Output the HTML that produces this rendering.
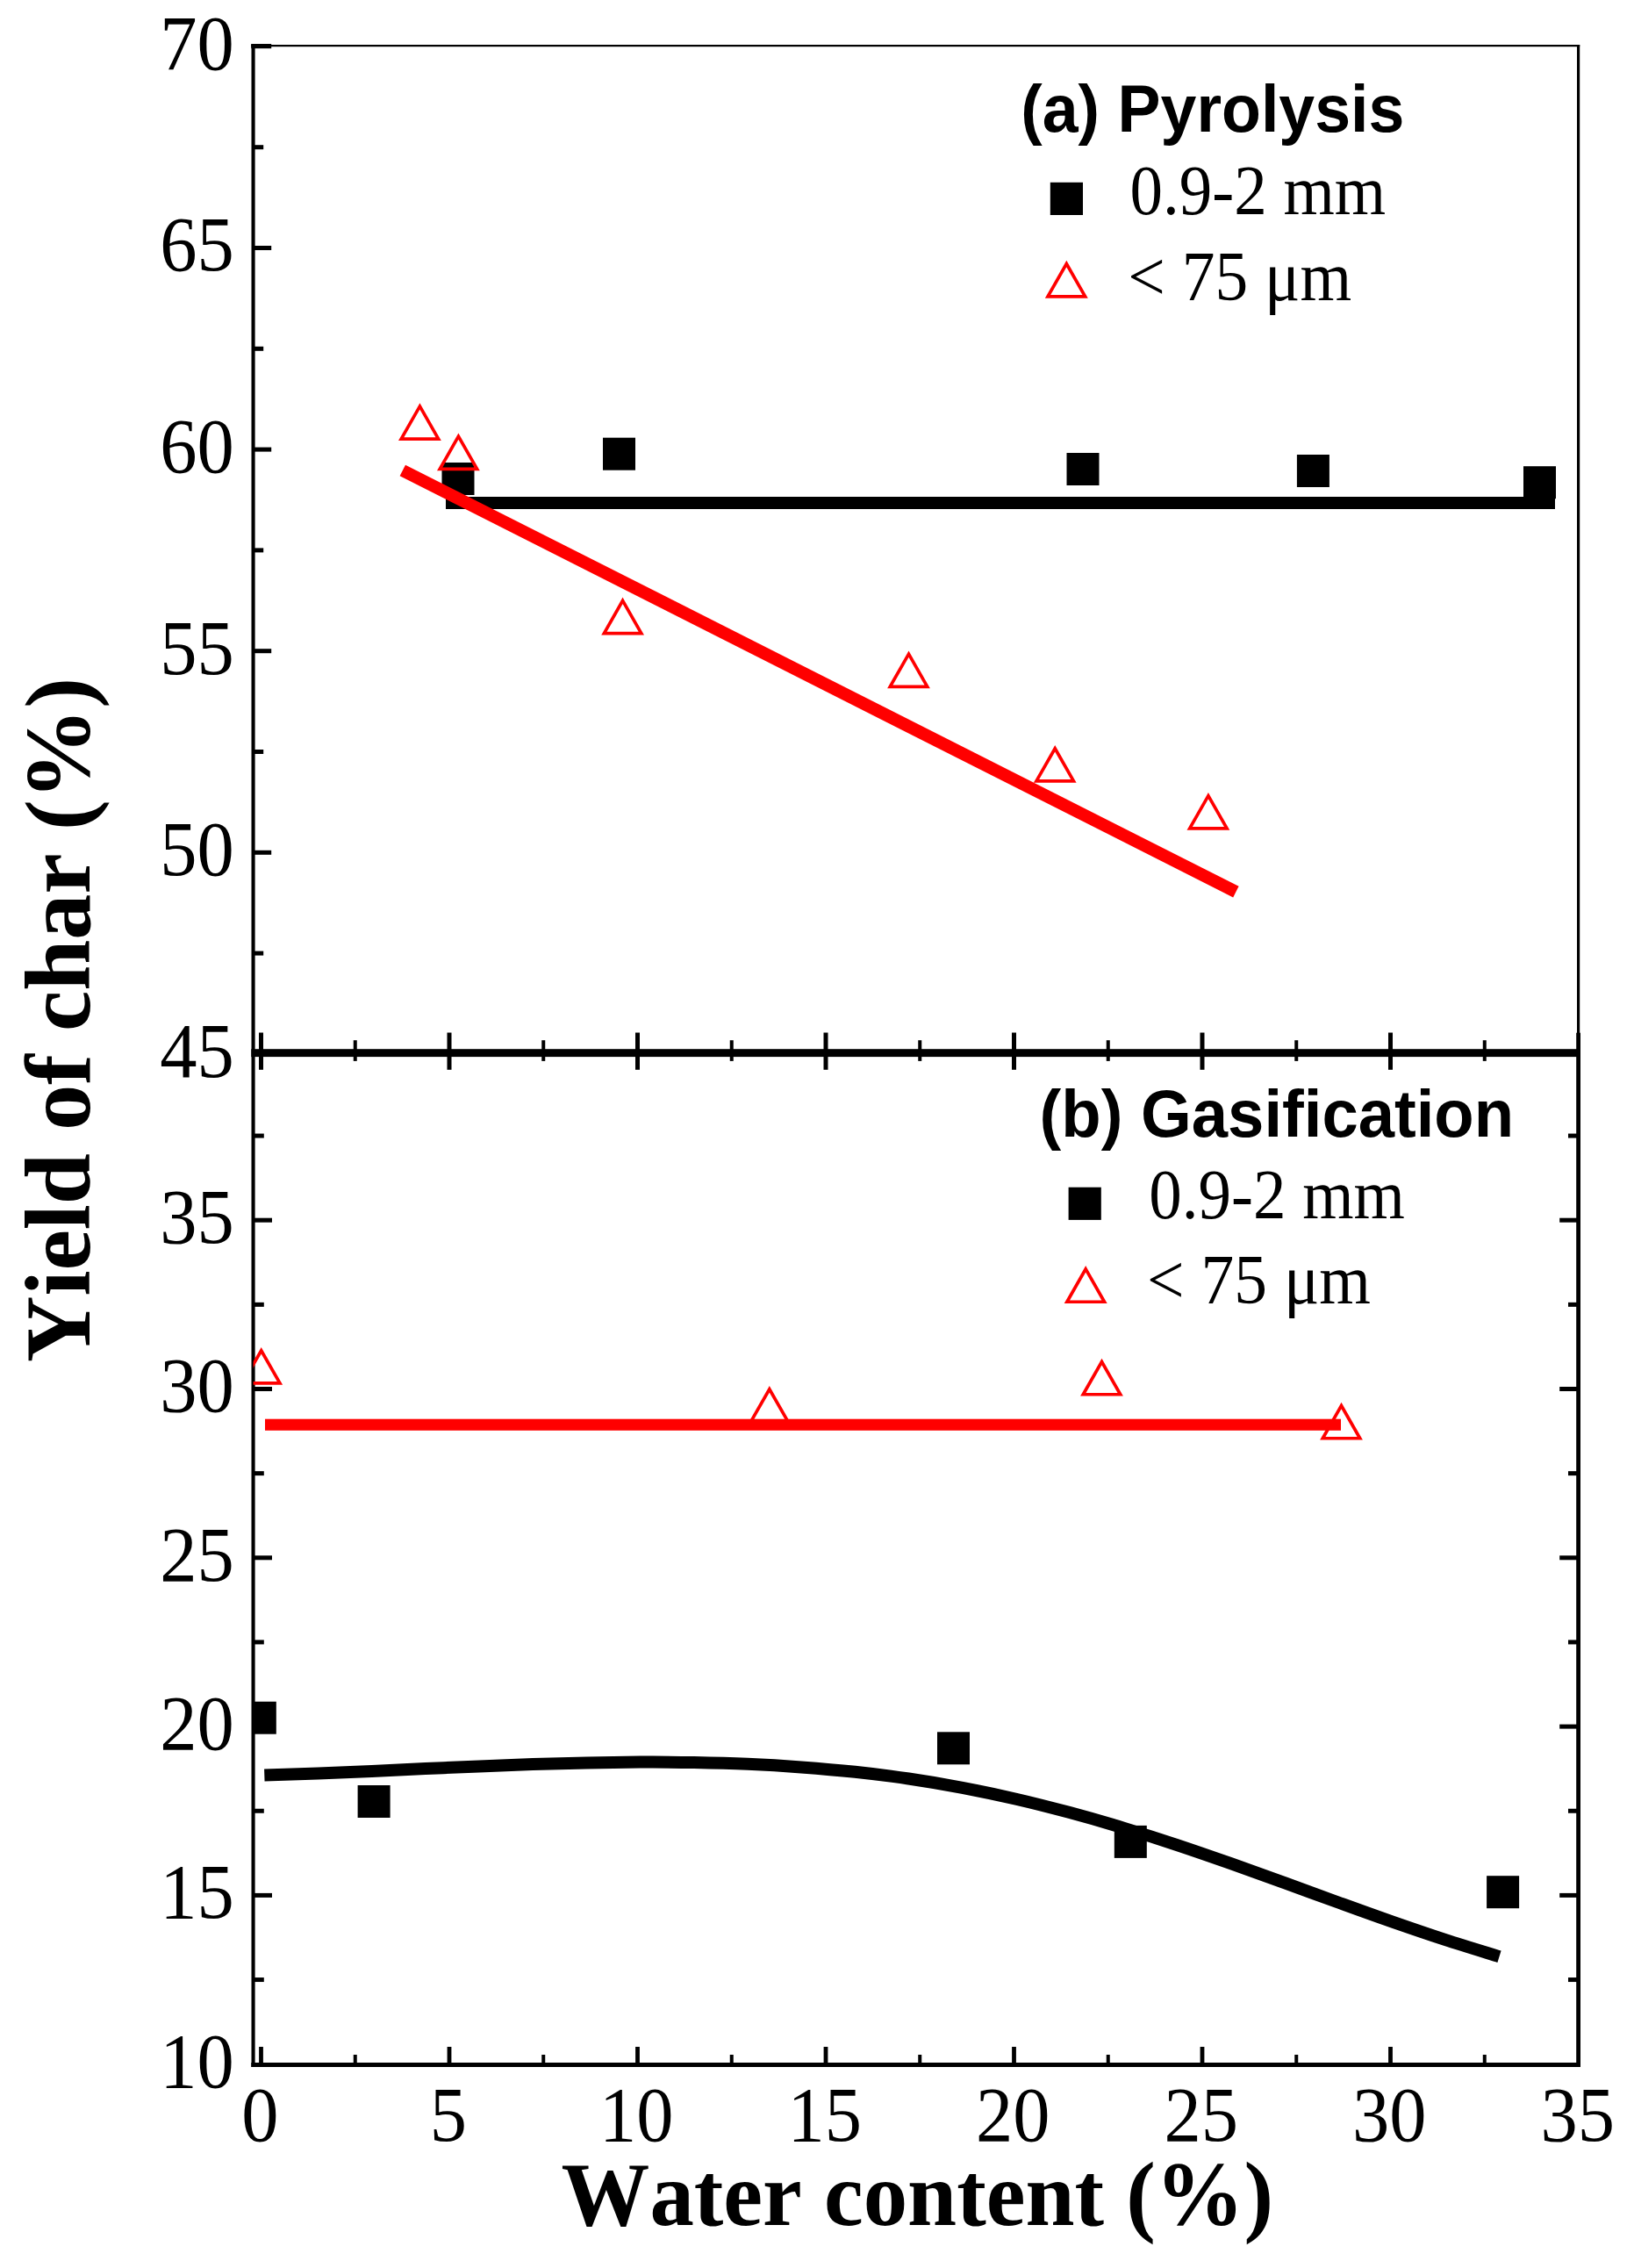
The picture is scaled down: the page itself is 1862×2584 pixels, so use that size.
<!DOCTYPE html>
<html lang="en"><head><meta charset="utf-8"><title>Yield of char vs water content</title>
<style>
html,body{margin:0;padding:0;background:#fff}
body{width:1862px;height:2584px;overflow:hidden}
svg{display:block}
text{font-family:"Liberation Serif",serif;fill:#000;font-kerning:none}
.sans{font-family:"Liberation Sans",sans-serif;font-weight:bold}
.b{font-weight:bold}
</style></head><body>
<svg width="1862" height="2584" viewBox="0 0 1862 2584">
<rect x="0" y="0" width="1862" height="2584" fill="#fff"/>
<rect x="286.50" y="50.00" width="4.10" height="2305.00" fill="#000"/>
<rect x="286.30" y="51.00" width="1513.90" height="2.20" fill="#000"/>
<rect x="286.30" y="50.00" width="22.90" height="5.20" fill="#000"/>
<rect x="1797.00" y="51.00" width="3.20" height="1149.00" fill="#000"/>
<rect x="1796.20" y="1176.70" width="4.80" height="1178.30" fill="#000"/>
<rect x="286.30" y="1195.20" width="1514.70" height="8.90" fill="#000"/>
<rect x="286.30" y="2350.00" width="1514.70" height="5.00" fill="#000"/>
<rect x="290.00" y="165.20" width="10.20" height="5.00" fill="#000"/>
<rect x="290.00" y="280.00" width="19.20" height="5.00" fill="#000"/>
<rect x="290.00" y="394.80" width="10.20" height="5.00" fill="#000"/>
<rect x="290.00" y="509.60" width="19.20" height="5.00" fill="#000"/>
<rect x="290.00" y="624.40" width="10.20" height="5.00" fill="#000"/>
<rect x="290.00" y="739.20" width="19.20" height="5.00" fill="#000"/>
<rect x="290.00" y="854.00" width="10.20" height="5.00" fill="#000"/>
<rect x="290.00" y="968.80" width="19.20" height="5.00" fill="#000"/>
<rect x="290.00" y="1083.60" width="10.20" height="5.00" fill="#000"/>
<rect x="290.00" y="1291.55" width="10.80" height="5.00" fill="#000"/>
<rect x="1787.00" y="1291.55" width="10.00" height="5.00" fill="#000"/>
<rect x="290.00" y="1387.70" width="20.00" height="5.00" fill="#000"/>
<rect x="1777.20" y="1387.70" width="19.80" height="5.00" fill="#000"/>
<rect x="290.00" y="1483.85" width="10.80" height="5.00" fill="#000"/>
<rect x="1787.00" y="1483.85" width="10.00" height="5.00" fill="#000"/>
<rect x="290.00" y="1580.00" width="20.00" height="5.00" fill="#000"/>
<rect x="1777.20" y="1580.00" width="19.80" height="5.00" fill="#000"/>
<rect x="290.00" y="1676.15" width="10.80" height="5.00" fill="#000"/>
<rect x="1787.00" y="1676.15" width="10.00" height="5.00" fill="#000"/>
<rect x="290.00" y="1772.30" width="20.00" height="5.00" fill="#000"/>
<rect x="1777.20" y="1772.30" width="19.80" height="5.00" fill="#000"/>
<rect x="290.00" y="1868.45" width="10.80" height="5.00" fill="#000"/>
<rect x="1787.00" y="1868.45" width="10.00" height="5.00" fill="#000"/>
<rect x="290.00" y="1964.60" width="20.00" height="5.00" fill="#000"/>
<rect x="1777.20" y="1964.60" width="19.80" height="5.00" fill="#000"/>
<rect x="290.00" y="2060.75" width="10.80" height="5.00" fill="#000"/>
<rect x="1787.00" y="2060.75" width="10.00" height="5.00" fill="#000"/>
<rect x="290.00" y="2156.90" width="20.00" height="5.00" fill="#000"/>
<rect x="1777.20" y="2156.90" width="19.80" height="5.00" fill="#000"/>
<rect x="290.00" y="2253.05" width="10.80" height="5.00" fill="#000"/>
<rect x="1787.00" y="2253.05" width="10.00" height="5.00" fill="#000"/>
<rect x="295.00" y="1176.50" width="5.00" height="42.30" fill="#000"/>
<rect x="295.10" y="2332.00" width="4.80" height="20.00" fill="#000"/>
<rect x="402.75" y="1185.20" width="4.00" height="23.70" fill="#000"/>
<rect x="402.75" y="2341.00" width="4.00" height="11.00" fill="#000"/>
<rect x="509.50" y="1176.50" width="5.00" height="42.30" fill="#000"/>
<rect x="509.60" y="2332.00" width="4.80" height="20.00" fill="#000"/>
<rect x="617.25" y="1185.20" width="4.00" height="23.70" fill="#000"/>
<rect x="617.25" y="2341.00" width="4.00" height="11.00" fill="#000"/>
<rect x="724.00" y="1176.50" width="5.00" height="42.30" fill="#000"/>
<rect x="724.10" y="2332.00" width="4.80" height="20.00" fill="#000"/>
<rect x="831.75" y="1185.20" width="4.00" height="23.70" fill="#000"/>
<rect x="831.75" y="2341.00" width="4.00" height="11.00" fill="#000"/>
<rect x="938.50" y="1176.50" width="5.00" height="42.30" fill="#000"/>
<rect x="938.60" y="2332.00" width="4.80" height="20.00" fill="#000"/>
<rect x="1046.25" y="1185.20" width="4.00" height="23.70" fill="#000"/>
<rect x="1046.25" y="2341.00" width="4.00" height="11.00" fill="#000"/>
<rect x="1153.00" y="1176.50" width="5.00" height="42.30" fill="#000"/>
<rect x="1153.10" y="2332.00" width="4.80" height="20.00" fill="#000"/>
<rect x="1260.75" y="1185.20" width="4.00" height="23.70" fill="#000"/>
<rect x="1260.75" y="2341.00" width="4.00" height="11.00" fill="#000"/>
<rect x="1367.50" y="1176.50" width="5.00" height="42.30" fill="#000"/>
<rect x="1367.60" y="2332.00" width="4.80" height="20.00" fill="#000"/>
<rect x="1475.25" y="1185.20" width="4.00" height="23.70" fill="#000"/>
<rect x="1475.25" y="2341.00" width="4.00" height="11.00" fill="#000"/>
<rect x="1582.00" y="1176.50" width="5.00" height="42.30" fill="#000"/>
<rect x="1582.10" y="2332.00" width="4.80" height="20.00" fill="#000"/>
<rect x="1689.75" y="1185.20" width="4.00" height="23.70" fill="#000"/>
<rect x="1689.75" y="2341.00" width="4.00" height="11.00" fill="#000"/>
<defs><clipPath id="cp"><rect x="288.6" y="40" width="1520" height="2320"/></clipPath></defs>
<g clip-path="url(#cp)">
<rect x="508.00" y="566.00" width="1264.00" height="14.00" fill="#000"/>
<rect x="503.50" y="527.00" width="37.00" height="37.00" fill="#000"/>
<rect x="687.00" y="498.70" width="37.00" height="37.00" fill="#000"/>
<rect x="1215.50" y="516.00" width="37.00" height="37.00" fill="#000"/>
<rect x="1477.90" y="518.00" width="37.00" height="37.00" fill="#000"/>
<rect x="1736.00" y="531.20" width="37.00" height="37.00" fill="#000"/>
<line x1="458.8" y1="536.0" x2="1408.4" y2="1016.1" stroke="#f00" stroke-width="14.2"/>
<polygon points="478.40,462.94 499.62,500.15 457.18,500.15" fill="none" stroke="#f00" stroke-width="3.7" stroke-linejoin="miter"/>
<polygon points="522.40,497.14 543.62,534.35 501.18,534.35" fill="none" stroke="#f00" stroke-width="3.7" stroke-linejoin="miter"/>
<polygon points="709.60,684.34 730.82,721.55 688.38,721.55" fill="none" stroke="#f00" stroke-width="3.7" stroke-linejoin="miter"/>
<polygon points="1035.50,745.14 1056.72,782.35 1014.28,782.35" fill="none" stroke="#f00" stroke-width="3.7" stroke-linejoin="miter"/>
<polygon points="1202.20,852.74 1223.42,889.95 1180.98,889.95" fill="none" stroke="#f00" stroke-width="3.7" stroke-linejoin="miter"/>
<polygon points="1376.90,906.64 1398.12,943.85 1355.68,943.85" fill="none" stroke="#f00" stroke-width="3.7" stroke-linejoin="miter"/>
<rect x="302.00" y="1616.70" width="1226.00" height="13.10" fill="#f00"/>
<polygon points="297.70,1538.74 318.92,1575.95 276.48,1575.95" fill="none" stroke="#f00" stroke-width="3.7" stroke-linejoin="miter"/>
<polygon points="876.80,1582.74 898.02,1619.95 855.58,1619.95" fill="none" stroke="#f00" stroke-width="3.7" stroke-linejoin="miter"/>
<polygon points="1255.50,1551.54 1276.72,1588.75 1234.28,1588.75" fill="none" stroke="#f00" stroke-width="3.7" stroke-linejoin="miter"/>
<polygon points="1528.50,1601.54 1549.72,1638.75 1507.28,1638.75" fill="none" stroke="#f00" stroke-width="3.7" stroke-linejoin="miter"/>
<rect x="277.80" y="1938.70" width="37.00" height="37.00" fill="#000"/>
<rect x="407.60" y="2034.00" width="37.00" height="37.00" fill="#000"/>
<rect x="1068.00" y="1973.30" width="37.00" height="37.00" fill="#000"/>
<rect x="1269.80" y="2079.90" width="37.00" height="37.00" fill="#000"/>
<rect x="1694.10" y="2137.20" width="37.00" height="37.00" fill="#000"/>
<path d="M301.3,2022.6 C311.5,2022.2 342.1,2021.3 362.5,2020.5 C382.9,2019.7 403.3,2018.8 423.7,2017.9 C444.1,2017.0 464.4,2016.0 484.8,2015.1 C505.2,2014.2 525.6,2013.2 546.0,2012.4 C566.4,2011.6 586.8,2010.8 607.2,2010.1 C627.6,2009.4 648.0,2008.8 668.4,2008.4 C688.8,2008.0 709.2,2007.7 729.6,2007.6 C750.0,2007.5 770.4,2007.6 790.8,2008.0 C811.2,2008.4 831.5,2008.9 851.9,2009.8 C872.3,2010.7 892.7,2011.9 913.1,2013.4 C933.5,2014.9 953.9,2016.6 974.3,2018.8 C994.7,2021.0 1015.1,2023.5 1035.5,2026.5 C1055.9,2029.5 1076.3,2032.9 1096.7,2036.8 C1117.1,2040.7 1137.5,2045.0 1157.9,2049.7 C1178.3,2054.4 1198.6,2059.6 1219.0,2065.1 C1239.4,2070.6 1259.8,2076.4 1280.2,2082.6 C1300.6,2088.8 1321.0,2095.3 1341.4,2102.1 C1361.8,2108.9 1382.2,2116.0 1402.6,2123.2 C1423.0,2130.4 1443.4,2137.8 1463.8,2145.2 C1484.2,2152.6 1504.6,2160.1 1525.0,2167.5 C1545.4,2174.9 1565.7,2182.3 1586.1,2189.4 C1606.5,2196.5 1626.9,2203.5 1647.3,2210.2 C1667.7,2216.8 1698.3,2226.1 1708.5,2229.3" fill="none" stroke="#000" stroke-width="14"/>
</g>
<text transform="translate(266.70,78.70) scale(0.9550,1)" font-size="88.5" text-anchor="end">70</text>
<text transform="translate(266.70,308.30) scale(0.9550,1)" font-size="88.5" text-anchor="end">65</text>
<text transform="translate(266.70,537.90) scale(0.9550,1)" font-size="88.5" text-anchor="end">60</text>
<text transform="translate(266.70,767.50) scale(0.9550,1)" font-size="88.5" text-anchor="end">55</text>
<text transform="translate(266.70,997.10) scale(0.9550,1)" font-size="88.5" text-anchor="end">50</text>
<text transform="translate(266.70,1226.70) scale(0.9550,1)" font-size="88.5" text-anchor="end">45</text>
<text transform="translate(266.70,1416.00) scale(0.9550,1)" font-size="88.5" text-anchor="end">35</text>
<text transform="translate(266.70,1608.30) scale(0.9550,1)" font-size="88.5" text-anchor="end">30</text>
<text transform="translate(266.70,1800.60) scale(0.9550,1)" font-size="88.5" text-anchor="end">25</text>
<text transform="translate(266.70,1992.90) scale(0.9550,1)" font-size="88.5" text-anchor="end">20</text>
<text transform="translate(266.70,2185.20) scale(0.9550,1)" font-size="88.5" text-anchor="end">15</text>
<text transform="translate(266.70,2377.50) scale(0.9550,1)" font-size="88.5" text-anchor="end">10</text>
<text transform="translate(296.30,2439.20) scale(0.9550,1)" font-size="88.5" text-anchor="middle">0</text>
<text transform="translate(510.80,2439.20) scale(0.9550,1)" font-size="88.5" text-anchor="middle">5</text>
<text transform="translate(725.30,2439.20) scale(0.9550,1)" font-size="88.5" text-anchor="middle">10</text>
<text transform="translate(939.80,2439.20) scale(0.9550,1)" font-size="88.5" text-anchor="middle">15</text>
<text transform="translate(1154.30,2439.20) scale(0.9550,1)" font-size="88.5" text-anchor="middle">20</text>
<text transform="translate(1368.80,2439.20) scale(0.9550,1)" font-size="88.5" text-anchor="middle">25</text>
<text transform="translate(1583.30,2439.20) scale(0.9550,1)" font-size="88.5" text-anchor="middle">30</text>
<text transform="translate(1797.80,2439.20) scale(0.9550,1)" font-size="88.5" text-anchor="middle">35</text>
<text class="b" transform="translate(639.60,2535.20) scale(0.9636,1)" font-size="104.6">Water content (%)</text>
<text class="b" transform="translate(101.80,1552.00) rotate(-90) scale(0.9944,1)" font-size="105">Yield of char (%)</text>
<text class="sans" transform="translate(1163.20,149.90) scale(0.9610,1)" font-size="76.5">(a) Pyrolysis</text>
<text class="sans" transform="translate(1184.60,1295.20) scale(0.9710,1)" font-size="76.5">(b) Gasification</text>
<rect x="1196.80" y="207.80" width="37.20" height="37.20" fill="#000"/>
<text transform="translate(1287.50,244.00) scale(0.9260,1)" font-size="81.0">0.9-2 mm</text>
<polygon points="1215.30,300.54 1236.62,337.95 1193.98,337.95" fill="none" stroke="#f00" stroke-width="3.7" stroke-linejoin="miter"/>
<text transform="translate(1285.30,341.70) scale(0.9320,1)" font-size="81.0">&lt; 75 μm</text>
<rect x="1217.60" y="1352.70" width="37.20" height="37.20" fill="#000"/>
<text transform="translate(1309.30,1387.80) scale(0.9260,1)" font-size="81.0">0.9-2 mm</text>
<polygon points="1237.20,1445.84 1258.52,1483.25 1215.88,1483.25" fill="none" stroke="#f00" stroke-width="3.7" stroke-linejoin="miter"/>
<text transform="translate(1307.10,1485.30) scale(0.9320,1)" font-size="81.0">&lt; 75 μm</text>
</svg></body></html>
